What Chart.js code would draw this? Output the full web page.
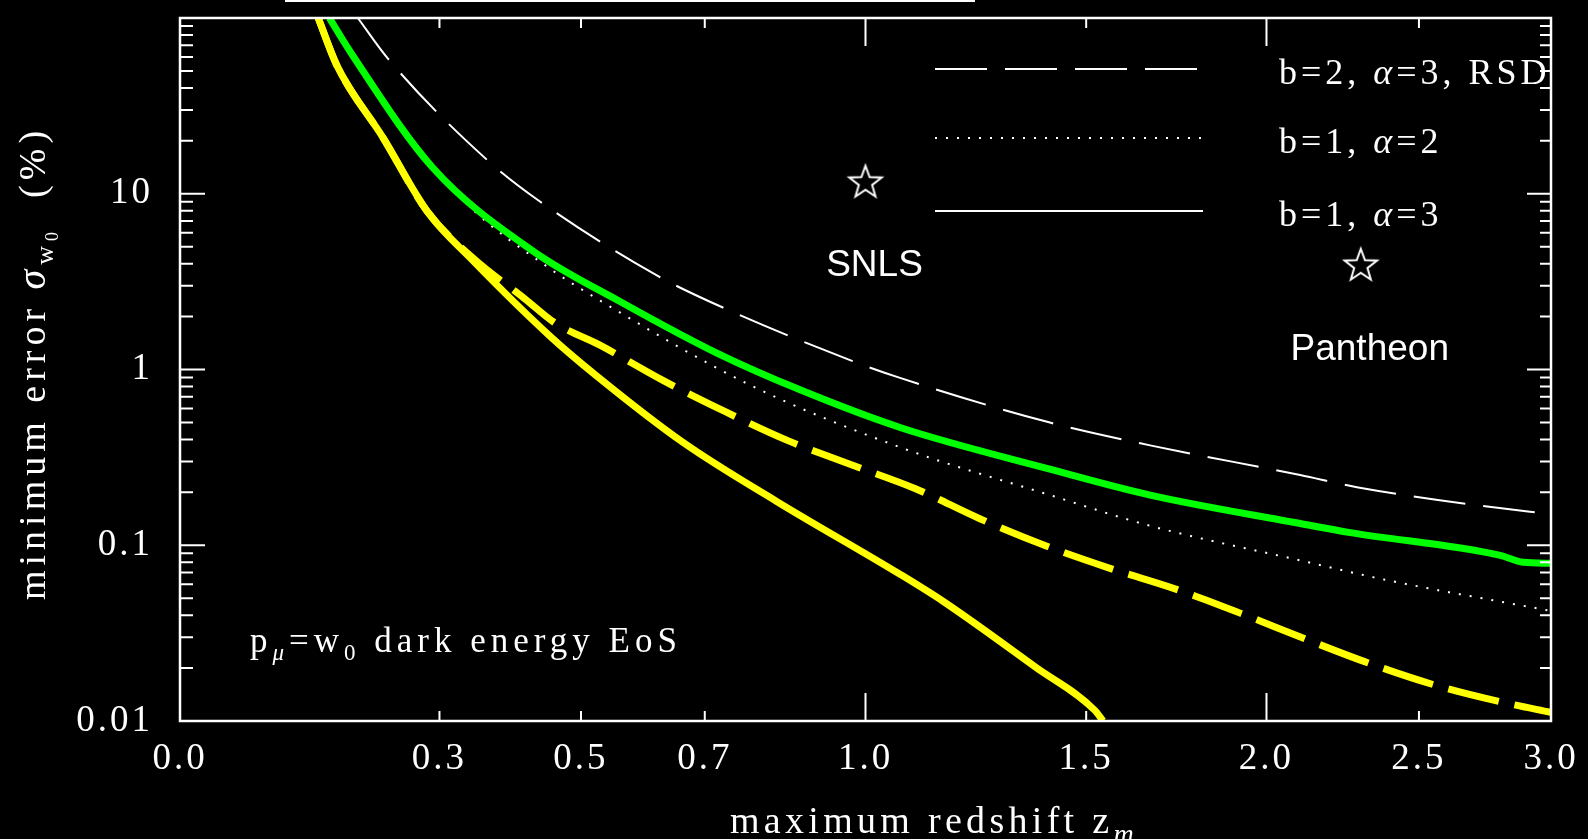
<!DOCTYPE html>
<html>
<head>
<meta charset="utf-8">
<script src="https://cdn.jsdelivr.net/npm/chart.js@4.4.1/dist/chart.umd.min.js"></script>
<style>
    html, body { margin: 0; padding: 0; background: #000; }
    canvas { display: block; }
</style>
</head>
<body>
<canvas id="grafico" width="1588" height="839"></canvas>
<script>
// eixos
const zTicks = [0.0, 0.3, 0.5, 0.7, 1.0, 1.5, 2.0, 2.5, 3.0]
const zTickLabels = ['0.0', '0.3', '0.5', '0.7', '1.0', '1.5', '2.0', '2.5', '3.0']
const zMajor = [0.0, 1.0, 2.0, 3.0]
const errTicks = [0.01, 0.1, 1, 10]
const errTickLabels = ['0.01', '0.1', '1', '10']

// b=2, alpha=3, RSD (tracejado branco)
const rsdZ = [0.197, 0.234, 0.364, 0.439, 0.621, 0.709, 0.969, 1.071, 1.41, 1.667, 2.104, 2.287, 2.916, 3.0]
const rsdErr = [100, 58.7, 15.6, 9.04, 3.41, 2.43, 1.13, 0.896, 0.499, 0.370, 0.251, 0.214, 0.155, 0.151]

// b=1, alpha=2 (pontilhado branco)
const b1a2Z = [0.165, 0.222, 0.262, 0.337, 0.454, 0.529, 0.779, 1.071, 1.41, 1.667, 2.104, 2.375, 3.0]
const b1a2Err = [100, 34.9, 21.0, 8.7, 3.74, 2.47, 0.818, 0.361, 0.193, 0.129, 0.082, 0.064, 0.0423]

// verde
const verdeZ = [0.163, 0.191, 0.291, 0.429, 0.561, 0.721, 0.872, 1.071, 1.41, 1.667, 2.104, 2.265, 2.8, 2.889, 3.0]
const verdeErr = [100, 61, 14.1, 4.72, 2.43, 1.24, 0.766, 0.468, 0.271, 0.193, 0.133, 0.118, 0.0875, 0.080, 0.079]

// amarelo continuo
const amareloZ = [0.15, 0.172, 0.228, 0.284, 0.345, 0.454, 0.524, 0.663, 0.829, 1.071, 1.163, 1.376, 1.522, 1.543]
const amareloErr = [100, 53.6, 20.8, 7.94, 4.15, 1.545, 0.919, 0.385, 0.177, 0.0684, 0.048, 0.0202, 0.0115, 0.01]

// amarelo tracejado
const amareloTracZ = [0.15, 0.172, 0.228, 0.284, 0.345, 0.417, 0.462, 0.529, 0.628, 0.732, 0.848, 0.973, 1.105, 1.245, 1.398, 1.561, 1.737, 1.927, 2.126, 2.338, 2.572, 2.823, 3.0]
const amareloTracErr = [100, 53.6, 20.8, 7.94, 4.3, 2.53, 1.83, 1.375, 0.873, 0.583, 0.395, 0.286, 0.209, 0.1416, 0.0997, 0.0739, 0.0563, 0.0407, 0.029, 0.021, 0.01576, 0.01264, 0.0112]

// estrelas: SNLS e Pantheon
const estrelasNomes = ['SNLS', 'Pantheon']
const estrelasZ = [1.0, 2.3]
const estrelasErr = [11.7, 3.94]

const SERIF = '"Liberation Serif", serif'
const SANS = '"Liberation Sans", Arial, sans-serif'

const u = z => Math.log10(1 + z)
const pontos = (zs, errs) => zs.map((z, i) => ({ x: u(z), y: errs[i] }))

// estrela de 5 pontas vazada
function criaEstrela() {
    const c = document.createElement('canvas')
    c.width = 40
    c.height = 40
    const g = c.getContext('2d')
    g.strokeStyle = '#fff'
    g.lineWidth = 2
    g.beginPath()
    for (let i = 0; i < 10; i++) {
        const r = i % 2 === 0 ? 17 : 7
        const ang = -Math.PI / 2 + i * Math.PI / 5
        const px = 20 + r * Math.cos(ang)
        const py = 21 + r * Math.sin(ang)
        if (i === 0) g.moveTo(px, py)
        else g.lineTo(px, py)
    }
    g.closePath()
    g.stroke()
    return c
}

function escreve(ctx, partes, x, y) {
    partes.forEach(p => {
        ctx.font = p[1]
        ctx.fillText(p[0], x, y + (p[2] || 0))
        x += ctx.measureText(p[0]).width
    })
    return x
}

const molduraPlugin = {
    id: 'moldura',
    beforeDraw(chart) {
        chart.ctx.letterSpacing = '3px'
    },
    afterDatasetsDraw(chart) {
        const { ctx, chartArea: a, scales: { x, y } } = chart
        ctx.save()
        ctx.strokeStyle = '#fff'
        ctx.lineWidth = 2.5
        ctx.strokeRect(a.left, a.top, a.right - a.left, a.bottom - a.top)
        ctx.lineWidth = 2
        ctx.beginPath()
        for (let d = -2; d < 2; d++) {
            for (let k = 1; k <= 9; k++) {
                const py = y.getPixelForValue(k * Math.pow(10, d))
                const len = k === 1 ? 25 : 13
                ctx.moveTo(a.left, py)
                ctx.lineTo(a.left + len, py)
                ctx.moveTo(a.right, py)
                ctx.lineTo(a.right - (k === 1 ? 24 : 11), py)
            }
        }
        zTicks.forEach(z => {
            const px = x.getPixelForValue(u(z))
            const len = zMajor.includes(z) ? 28 : 10
            ctx.moveTo(px, a.bottom)
            ctx.lineTo(px, a.bottom - len)
            ctx.moveTo(px, a.top)
            ctx.lineTo(px, a.top + len)
        })
        ctx.stroke()
        // resto do painel de cima
        ctx.beginPath()
        ctx.moveTo(285, 1)
        ctx.lineTo(975, 1)
        ctx.stroke()
        ctx.restore()
    },
    afterDraw(chart) {
        const { ctx, chartArea: a, scales: { x, y } } = chart
        ctx.save()
        ctx.fillStyle = '#fff'
        ctx.strokeStyle = '#fff'
        ctx.textBaseline = 'alphabetic'
        ctx.textAlign = 'left'

        // legenda
        const itens = [
            { dash: [52, 18], dy: 51, partes: [['b=2, ', '36px ' + SERIF], ['α', 'italic 36px ' + SERIF], ['=3, RSD', '36px ' + SERIF]] },
            { dash: [2, 9], dy: 120, partes: [['b=1, ', '36px ' + SERIF], ['α', 'italic 36px ' + SERIF], ['=2', '36px ' + SERIF]] },
            { dash: [], dy: 193, partes: [['b=1, ', '36px ' + SERIF], ['α', 'italic 36px ' + SERIF], ['=3', '36px ' + SERIF]] }
        ]
        ctx.lineWidth = 2
        itens.forEach(it => {
            const ly = a.top + it.dy
            ctx.setLineDash(it.dash)
            ctx.beginPath()
            ctx.moveTo(935, ly)
            ctx.lineTo(1203, ly)
            ctx.stroke()
            ctx.letterSpacing = '4px'
            escreve(ctx, it.partes, 1279, ly + 15)
        })
        ctx.setLineDash([])

        // titulo eixo x
        ctx.letterSpacing = '4.3px'
        escreve(ctx, [
            ['maximum redshift ', '38px ' + SERIF],
            ['z', '38px ' + SERIF],
            ['m', 'italic 28px ' + SERIF, 10]
        ], 730, 833)

        // titulo eixo y
        ctx.letterSpacing = '5px'
        ctx.save()
        ctx.translate(45, 600)
        ctx.rotate(-Math.PI / 2)
        escreve(ctx, [
            ['minimum error ', '38px ' + SERIF],
            ['σ', 'italic 40px ' + SERIF],
            ['w', '26px ' + SERIF, 8],
            ['0', '18px ' + SERIF, 13],
            ['  (%)', '38px ' + SERIF]
        ], 0, 0)
        ctx.restore()

        // anotacao
        ctx.letterSpacing = '5px'
        escreve(ctx, [
            ['p', '35px ' + SERIF],
            ['μ', 'italic 23px ' + SERIF, 8],
            ['=w', '35px ' + SERIF],
            ['0', '23px ' + SERIF, 8],
            [' dark energy EoS', '35px ' + SERIF]
        ], 250, 652)

        // nomes das estrelas
        ctx.letterSpacing = '0px'
        ctx.font = '37px ' + SANS
        ctx.textAlign = 'center'
        ctx.textBaseline = 'middle'
        const deslocY = [84, 85]
        estrelasNomes.forEach((nome, i) => {
            const px = x.getPixelForValue(u(estrelasZ[i]))
            const py = y.getPixelForValue(estrelasErr[i])
            ctx.fillText(nome, px + 9, py + deslocY[i])
        })
        ctx.restore()
    }
}

const ctx = document.getElementById('grafico').getContext('2d')

new Chart(ctx, {
    type: 'line',
    data: {
        datasets: [
            {
                label: 'estrelas',
                type: 'scatter',
                data: pontos(estrelasZ, estrelasErr),
                pointStyle: criaEstrela(),
                pointRadius: 17,
                showLine: false
            },
            {
                label: 'verde',
                data: pontos(verdeZ, verdeErr),
                borderColor: '#00ff00',
                borderWidth: 7,
                pointRadius: 0,
                cubicInterpolationMode: 'monotone'
            },
            {
                label: 'amarelo tracejado',
                data: pontos(amareloTracZ, amareloTracErr),
                borderColor: '#ffff00',
                borderWidth: 7,
                borderDash: [52, 16],
                pointRadius: 0,
                cubicInterpolationMode: 'monotone'
            },
            {
                label: 'amarelo',
                data: pontos(amareloZ, amareloErr),
                borderColor: '#ffff00',
                borderWidth: 7,
                pointRadius: 0,
                cubicInterpolationMode: 'monotone'
            },
            {
                label: 'b=1, α=2',
                data: pontos(b1a2Z, b1a2Err),
                borderColor: '#ffffff',
                borderWidth: 2,
                borderDash: [2, 9],
                pointRadius: 0,
                cubicInterpolationMode: 'monotone'
            },
            {
                label: 'b=2, α=3, RSD',
                data: pontos(rsdZ, rsdErr),
                borderColor: '#ffffff',
                borderWidth: 2,
                borderDash: [52, 18],
                pointRadius: 0,
                cubicInterpolationMode: 'monotone'
            }
        ]
    },
    options: {
        responsive: false,
        devicePixelRatio: 1,
        animation: false,
        layout: {
            padding: { left: 0, top: 12, right: 37, bottom: 0 }
        },
        scales: {
            x: {
                type: 'linear',
                min: 0,
                max: u(3),
                grid: { display: false, drawTicks: false },
                border: { display: false },
                afterBuildTicks: scale => {
                    scale.ticks = zTicks.map(z => ({ value: u(z) }))
                },
                afterFit: scale => {
                    scale.height = 118
                    scale.paddingLeft = 0
                    scale.paddingRight = 0
                },
                ticks: {
                    autoSkip: false,
                    maxRotation: 0,
                    color: '#fff',
                    padding: 16,
                    font: { family: SERIF, size: 37 },
                    callback: (v, i) => zTickLabels[i]
                }
            },
            y: {
                type: 'logarithmic',
                min: 0.01,
                max: 100,
                grid: { display: false, drawTicks: false },
                border: { display: false },
                afterBuildTicks: scale => {
                    scale.ticks = errTicks.map(v => ({ value: v }))
                },
                afterFit: scale => {
                    scale.width = 180
                    scale.paddingTop = 0
                    scale.paddingBottom = 0
                },
                ticks: {
                    autoSkip: false,
                    color: '#fff',
                    padding: 27,
                    font: { family: SERIF, size: 37 },
                    callback: (v, i) => errTickLabels[i]
                }
            }
        },
        plugins: {
            legend: { display: false },
            tooltip: { enabled: false }
        }
    },
    plugins: [molduraPlugin]
})
</script>
</body>
</html>
